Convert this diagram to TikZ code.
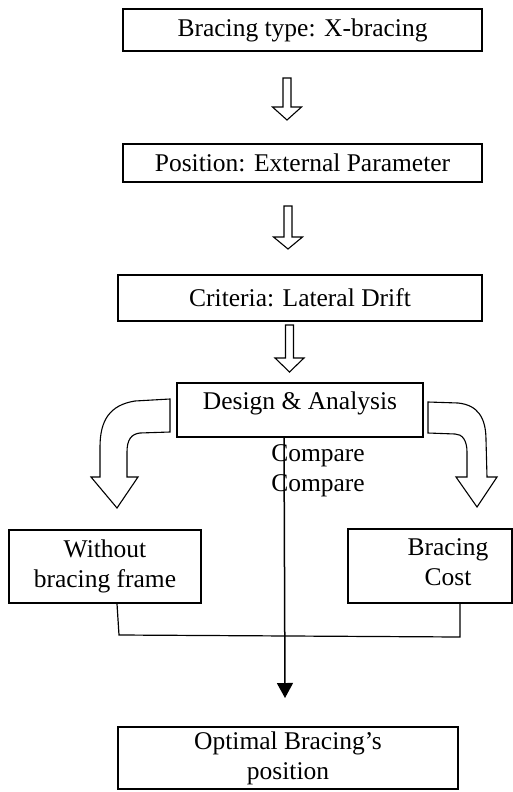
\documentclass[tikz,border=0pt]{standalone}
\usepackage{fontspec}
\setmainfont{Liberation Serif}
\usepackage{tikz}
\usetikzlibrary{arrows.meta,positioning,calc}

\begin{document}
\begin{tikzpicture}[x=1pt,y=-1pt,font=\fontsize{25.5}{30}\selectfont,
  box/.style={draw,line width=1.6pt,inner sep=0pt,align=center},
  hollow/.style={draw,line width=1.1pt,fill=white,line join=miter}]
  \useasboundingbox (0,0) rectangle (512,792);
  \node[box,minimum width=359,minimum height=42] (bracing) at (302.5,30) {Bracing type: X-bracing};
  \node[box,minimum width=359,minimum height=38] (position) at (302.5,163) {Position: External Parameter};
  \node[box,minimum width=364,minimum height=46] (criteria) at (300,298) {Criteria: Lateral Drift};
  \node[draw,line width=1.6pt,inner sep=0pt,minimum width=246,text height=26pt,text depth=28pt] (design) at (300,410) {Design \& Analysis};
  \node[align=center,inner sep=0pt] (compare) at (318,471) {Compare\\Compare};
  \node[box,minimum width=192,minimum height=73] (nobrace) at (105,566.5) {Without\\bracing frame};
  \node[box,minimum width=164,minimum height=74] (cost) at (430,566) {};
  \node[align=center,inner sep=0pt] (costtext) at (448,562) {Bracing\\Cost};
  \node[box,minimum width=340,minimum height=62] (optimal) at (288,758) {Optimal Bracing's\\position};
  \foreach \xc/\ytop/\ybase/\ytip in {287/78/107/120,288/206/237/249,289.5/325/358/372}
    \draw[hollow] (\xc-4,\ytop) -- (\xc+4,\ytop) -- (\xc+4,\ybase) -- (\xc+14.5,\ybase)
      -- (\xc,\ytip) -- (\xc-14.5,\ybase) -- (\xc-4,\ybase) -- cycle;
  \draw[hollow] (170,399) -- (135,401) .. controls (110,405) and (100,420) .. (100,447)
    -- (100,477) -- (91,477) -- (117,508) -- (138,477) -- (127,477) -- (127,452)
    .. controls (127,440) and (131,434) .. (140,433) -- (170,432) -- cycle;
  \draw[hollow] (428,402) -- (458,403) .. controls (478,405) and (486,418) .. (486,440)
    -- (487,477) -- (497,477) -- (477,507) -- (456,477) -- (467,477) -- (467,452)
    .. controls (467,440) and (462,434) .. (455,434) -- (428,433) -- cycle;
  \coordinate (tip) at (285,698);
  \draw[-{Triangle[width=16pt,length=15pt]},line width=1.5pt] ([xshift=-16pt]design.south) -- (tip);
  \coordinate (joinL) at (119,635);
  \coordinate (joinR) at (460,637);
  \draw[line width=1.2pt] ([xshift=12pt]nobrace.south) -- (joinL) -- (joinR) -- ([xshift=30pt]cost.south);
\end{tikzpicture}
\end{document}
